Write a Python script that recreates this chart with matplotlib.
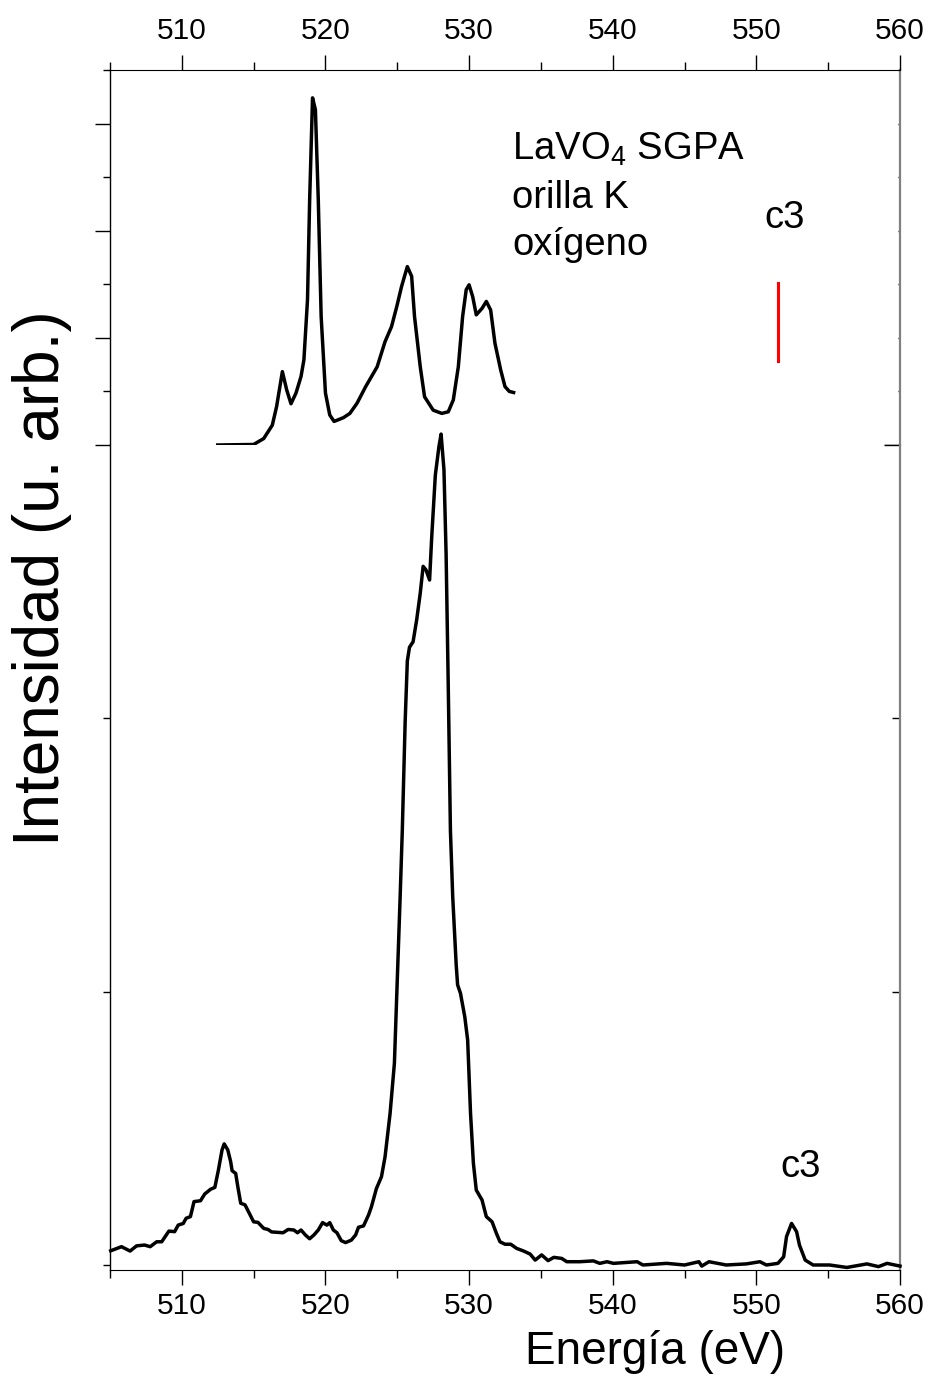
import matplotlib
matplotlib.use("Agg")
import matplotlib.pyplot as plt
from matplotlib.ticker import MultipleLocator, NullFormatter, FixedLocator

plt.rcParams["font.family"] = ["Liberation Sans", "DejaVu Sans"]
plt.rcParams["mathtext.fontset"] = "custom"
plt.rcParams["mathtext.rm"] = "Liberation Sans"
plt.rcParams["mathtext.default"] = "regular"

# calculated spectrum (upper curve)
calc_energy = [512.5, 515.0, 515.7, 516.3, 516.6, 517.0, 517.3, 517.6, 517.95, 518.3,
               518.5, 518.75, 518.9, 519.1, 519.3, 519.5, 519.7, 520.0, 520.3, 520.6,
               521.25, 521.7, 522.2, 522.8, 523.6, 524.15, 524.6, 524.97, 525.3, 525.7,
               526.0, 526.2, 526.6, 526.9, 527.5, 528.1, 528.55, 528.9, 529.25, 529.55,
               529.8, 530.0, 530.25, 530.5, 530.9, 531.2, 531.5, 531.8, 532.2, 532.5,
               532.8, 533.1]
calc_int = [0.0, 0.01, 0.12, 0.37, 0.72, 1.37, 1.03, 0.77, 0.97, 1.28,
            1.59, 2.71, 4.58, 6.48, 6.26, 4.58, 2.40, 0.97, 0.56, 0.44,
            0.51, 0.59, 0.78, 1.09, 1.46, 1.93, 2.21, 2.59, 2.96, 3.33,
            3.15, 2.40, 1.46, 0.90, 0.65, 0.59, 0.62, 0.84, 1.46, 2.40,
            2.90, 2.99, 2.77, 2.43, 2.55, 2.68, 2.52, 1.90, 1.40, 1.09,
            1.00, 0.98]

# measured spectrum (lower curve)
exp_energy = [505.05, 505.8, 506.4, 506.85, 507.4, 507.8, 508.25, 508.6, 509.1, 509.5,
              509.75, 510.1, 510.3, 510.6, 510.85, 511.3, 511.6, 512.0, 512.3, 512.55,
              512.8, 512.95, 513.2, 513.4, 513.5, 513.75, 513.9, 514.1, 514.4, 514.7,
              515.0, 515.3, 515.7, 516.0, 516.25, 517.05, 517.4, 517.8, 518.05, 518.3,
              518.6, 518.9, 519.2, 519.5, 519.8, 520.1, 520.3, 520.55, 520.8, 521.1,
              521.4, 521.8, 522.1, 522.3, 522.65, 523.0, 523.2, 523.55, 523.9, 524.15,
              524.5, 524.8, 524.96, 525.2, 525.35, 525.55, 525.7, 525.85, 526.1, 526.35,
              526.6, 526.8, 527.0, 527.25, 527.4, 527.65, 527.9, 528.05, 528.25, 528.4,
              528.55, 528.7, 528.86, 529.1, 529.2, 529.4, 529.7, 529.9, 530.1, 530.3,
              530.5, 530.9, 531.2, 531.6, 531.9, 532.15, 532.5, 532.9, 533.3, 533.8,
              534.25, 534.6, 535.05, 535.5, 535.9, 536.45, 536.8, 537.7, 538.65, 539.1,
              539.6, 540.05, 541.7, 542.1, 543.75, 545.0, 546.0, 546.2, 546.7, 547.9,
              549.3, 550.25, 550.7, 551.5, 551.9, 552.1, 552.45, 552.8, 553.0, 553.4,
              553.95, 555.1, 556.3, 557.7, 558.5, 559.1, 560.0]
exp_int = [0.052, 0.067, 0.051, 0.070, 0.073, 0.067, 0.085, 0.085, 0.124, 0.122,
           0.146, 0.152, 0.171, 0.177, 0.232, 0.235, 0.260, 0.277, 0.284, 0.348,
           0.421, 0.443, 0.421, 0.378, 0.345, 0.335, 0.286, 0.226, 0.220, 0.189,
           0.158, 0.156, 0.134, 0.130, 0.121, 0.118, 0.130, 0.128, 0.118, 0.128,
           0.110, 0.096, 0.110, 0.128, 0.155, 0.146, 0.155, 0.128, 0.118, 0.089,
           0.082, 0.091, 0.110, 0.138, 0.143, 0.183, 0.213, 0.280, 0.323, 0.396,
           0.555, 0.738, 0.980, 1.347, 1.590, 1.990, 2.210, 2.260, 2.280, 2.360,
           2.458, 2.556, 2.543, 2.506, 2.665, 2.890, 2.994, 3.040, 2.910, 2.600,
           2.116, 1.590, 1.347, 1.100, 1.025, 0.994, 0.908, 0.823, 0.555, 0.372,
           0.274, 0.238, 0.177, 0.158, 0.116, 0.085, 0.076, 0.076, 0.061, 0.051,
           0.040, 0.018, 0.037, 0.016, 0.028, 0.024, 0.012, 0.012, 0.015, 0.006,
           0.012, 0.006, 0.012, 0.000, 0.006, 0.000, 0.012, -0.004, 0.012, 0.000,
           0.004, 0.012, 0.000, 0.006, 0.030, 0.104, 0.152, 0.122, 0.073, 0.018,
           0.000, 0.000, -0.009, 0.004, -0.006, 0.006, -0.004]

# red marker for c3 in the upper panel
marker_energy = [551.5, 551.5]
marker_int = [1.57, 3.03]

W, H = 931, 1379
fig = plt.figure(figsize=(W / 100, H / 100), dpi=100)
left = 110 / W
width = (900 - 110) / W
ax_top = fig.add_axes([left, 1 - 445 / H, width, (445 - 70) / H])
ax_bot = fig.add_axes([left, 1 - 1270 / H, width, (1270 - 445) / H])

ax_top.plot(calc_energy, calc_int, color="black", lw=2.5, solid_joinstyle="round")
ax_top.plot(marker_energy, marker_int, color="#ff0000", lw=2.2)
ax_bot.plot(exp_energy, exp_int, color="black", lw=2.5, clip_on=False,
            solid_joinstyle="round")

for ax in (ax_top, ax_bot):
    ax.set_xlim(505, 560)
    ax.xaxis.set_major_locator(MultipleLocator(10))
    ax.xaxis.set_minor_locator(FixedLocator([505, 515, 525, 535, 545, 555]))
    ax.spines["left"].set_linewidth(1.0)
    ax.spines["right"].set_visible(False)
    ax.tick_params(axis="x", which="major", direction="out", length=10.8, width=1.0,
                   labelsize=21.5, color="black")
    ax.tick_params(axis="x", which="minor", direction="out", length=5.8, width=1.0)
    ax.tick_params(axis="y", which="both", direction="out", width=1.0, labelleft=False)
    ax.tick_params(axis="y", which="major", length=10.8)
    ax.tick_params(axis="y", which="minor", length=5.0)

# upper panel: axis on top
ax_top.set_ylim(0, 7)
ax_top.spines["bottom"].set_visible(False)
ax_top.xaxis.tick_top()
ax_top.tick_params(axis="x", which="both", top=True, bottom=False, labeltop=True,
                   labelbottom=False, pad=7)
ax_top.yaxis.set_major_locator(FixedLocator([0, 2, 4, 6]))
ax_top.yaxis.set_minor_locator(FixedLocator([1, 3, 5, 7]))

# lower panel: axis at bottom
ax_bot.set_ylim(-0.0183, 3.0)
ax_bot.spines["top"].set_visible(False)
ax_bot.tick_params(axis="x", which="both", top=False, bottom=True, pad=5)
ax_bot.yaxis.set_major_locator(FixedLocator([]))
ax_bot.yaxis.set_minor_locator(FixedLocator([0, 1, 2]))

# right side ticks point inward, grey spine
sec_top = ax_top.secondary_yaxis("right")
sec_top.set_ticks([0])
sec_top.set_ticks([1, 2, 3, 4, 5, 6, 7], minor=True)
sec_top.yaxis.set_major_formatter(NullFormatter())
sec_top.tick_params(which="major", direction="in", length=11.5, width=1.0)
sec_top.tick_params(which="minor", direction="in", length=1.5, width=1.0)

sec_bot = ax_bot.secondary_yaxis("right")
sec_bot.set_ticks([3])
sec_bot.set_ticks([1, 2], minor=True)
sec_bot.yaxis.set_major_formatter(NullFormatter())
sec_bot.tick_params(which="major", direction="in", length=11.5, width=1.0)
sec_bot.tick_params(which="minor", direction="in", length=5.8, width=1.0)

for sec in (sec_top, sec_bot):
    sec.spines["right"].set_color("#808080")
    sec.spines["right"].set_linewidth(1.6)

# annotations
ax_top.text(533.0, 5.33, r"LaVO$_4$ SGPA", fontsize=27.5, va="baseline", ha="left")
ax_top.text(533.0, 4.43, "orilla K", fontsize=27.5, va="baseline", ha="left")
ax_top.text(533.0, 3.55, "oxígeno", fontsize=27.5, va="baseline", ha="left")
ax_top.text(552.0, 4.06, "c3", fontsize=27.5, va="baseline", ha="center")
ax_bot.text(553.1, 0.322, "c3", fontsize=27.5, va="baseline", ha="center")

fig.text(655 / W, 1 - 1352 / H, "Energía (eV)", fontsize=33, ha="center", va="center")
fig.text(42 / W, 1 - 578 / H, "Intensidad (u. arb.)", fontsize=46, rotation=90,
         ha="center", va="center")

fig.savefig("out.png", dpi=100)
